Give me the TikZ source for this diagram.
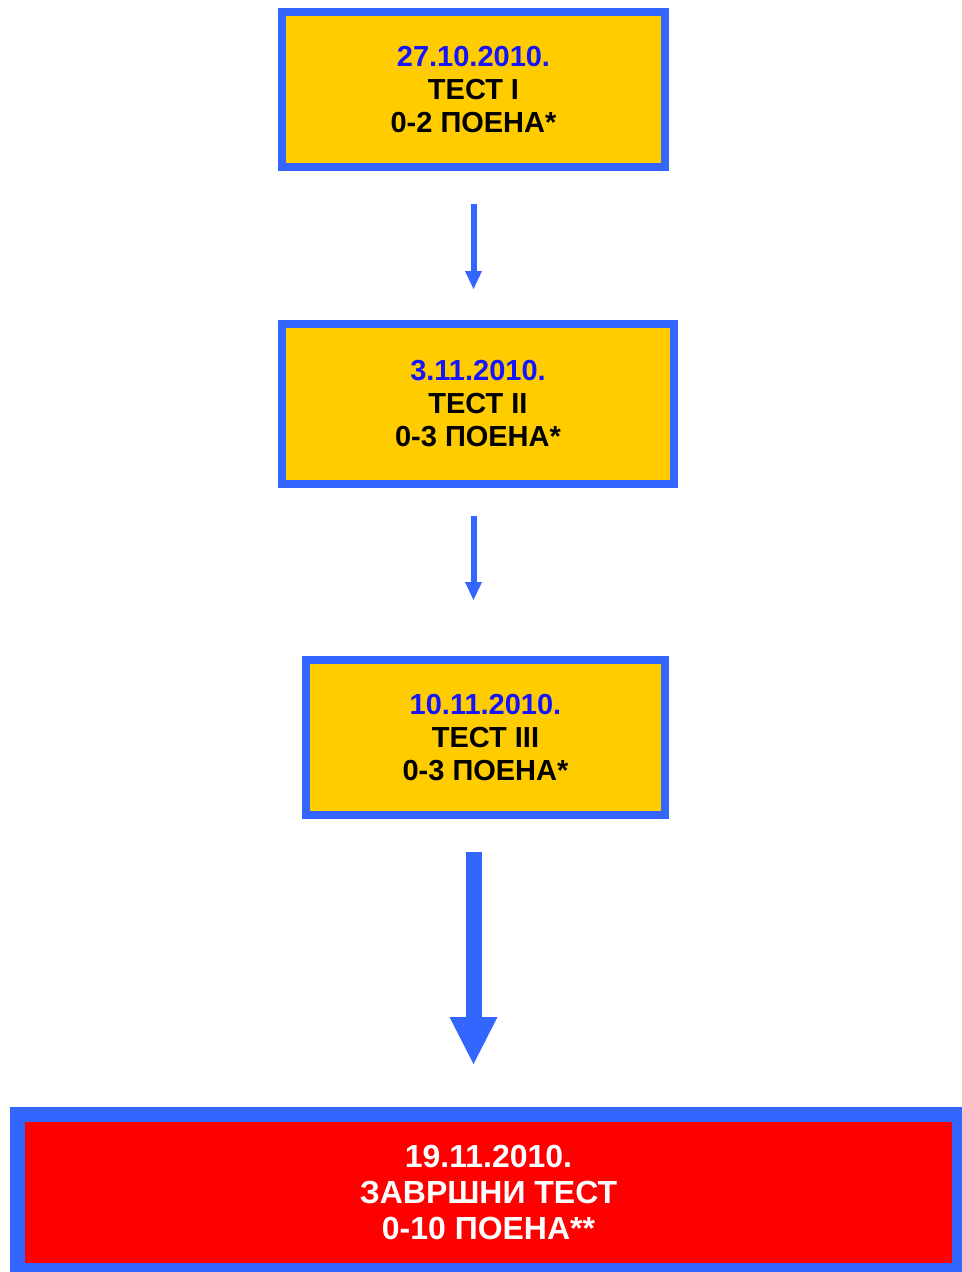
\documentclass[tikz,border=0pt]{standalone}
\usepackage{fontspec}
\setmainfont{Liberation Sans}
\usetikzlibrary{arrows.meta}
\usepackage{xcolor}
\definecolor{frameblue}{RGB}{51,102,255}
\definecolor{boxyellow}{RGB}{255,204,0}
\definecolor{dateblue}{RGB}{20,20,255}
\definecolor{finalred}{RGB}{255,0,0}

\begin{document}
\begin{tikzpicture}[x=0.02cm, y=-0.02cm,
    testbox/.style={draw=frameblue, fill=boxyellow, line width=0.16cm, outer sep=0pt, inner sep=0pt,
        align=center, font=\bfseries\fontsize{16.5}{18.8}\selectfont},
    finalbox/.style={draw=frameblue, fill=finalred, line width=0.3cm, outer sep=0pt, inner sep=0pt,
        align=center, text=white, font=\bfseries\fontsize{18.2}{20.5}\selectfont},
    flow/.style={frameblue, line width=0.12cm, -{Triangle[width=0.34cm, length=0.36cm, line width=0pt]}},
    bigflow/.style={frameblue, line width=0.32cm, -{Triangle[width=0.96cm, length=0.94cm, line width=0pt]}}]
    \useasboundingbox (0,0) rectangle (961,1272);

    % Tests
    \node[testbox, minimum width=7.66cm, minimum height=3.1cm] (test1) at (473.5,89.5)
        {\textcolor{dateblue}{27.10.2010.}\\ТЕСТ I\\0-2 ПОЕНА*};
    \node[testbox, minimum width=7.84cm, minimum height=3.2cm] (test2) at (478,404)
        {\textcolor{dateblue}{3.11.2010.}\\ТЕСТ II\\0-3 ПОЕНА*};
    \node[testbox, minimum width=7.18cm, minimum height=3.1cm] (test3) at (485.5,737.5)
        {\textcolor{dateblue}{10.11.2010.}\\ТЕСТ III\\0-3 ПОЕНА*};

    % Final test
    \node[finalbox, minimum width=18.84cm, minimum height=3.12cm] (final) at (488.5,1192.5)
        {\raisebox{0pt}{19.11.2010.}\\ЗАВРШНИ ТЕСТ\\0-10 ПОЕНА**};

    % Arrows
    \draw[flow, shorten <=0.74cm, shorten >=0.7cm] (test1.south) -- (test1.south |- test2.north);
    \draw[flow, shorten <=0.64cm, shorten >=1.2cm] (test1.south |- test2.south) -- (test1.south |- test3.north);
    \draw[bigflow, shorten <=0.74cm, shorten >=1.01cm] (test1.south |- test3.south) -- (test1.south |- final.north);
\end{tikzpicture}
\end{document}
